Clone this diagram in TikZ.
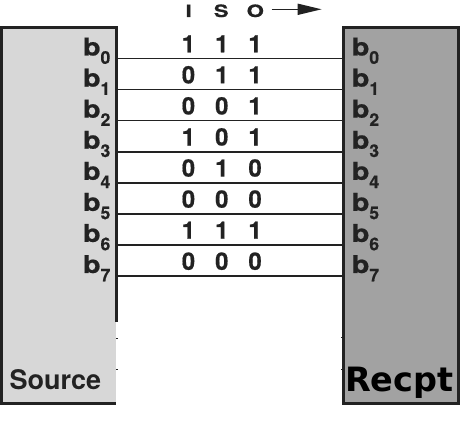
\documentclass[tikz,border=0pt]{standalone}
\usepackage{fontspec}
\setmainfont{TeX Gyre Heros}[BoldFeatures={FakeBold=0.6}]
\newfontfamily\srcfont{TeX Gyre Heros}
\newfontfamily\dvfont{DejaVu Sans}
\usetikzlibrary{arrows.meta}
\definecolor{ink}{HTML}{222222}
\definecolor{srcfill}{HTML}{D7D7D7}
\definecolor{rcpfill}{HTML}{A2A2A2}
\newcommand{\blab}[1]{\scalebox{1.18}[1]{\fontsize{24.5}{24.5}\selectfont b}\raisebox{-8.3pt}{\fontsize{17.5}{17.5}\selectfont #1}}
\newcommand{\hdrtxt}[1]{\scalebox{1.3}[1]{#1}}
\tikzset{
  boxfill/.style={inner sep=0pt, minimum width=#1, minimum height=375.7pt},
  border/.style={draw=ink, line width=3pt, line join=miter},
  wire/.style={draw=ink, line width=1.6pt},
  bit/.style={inner sep=0pt, anchor=base, text=ink, font=\bfseries\fontsize{24}{24}\selectfont},
  hdr/.style={inner sep=0pt, anchor=base, text=ink, font=\bfseries\fontsize{17}{17}\selectfont},
  lblL/.style={inner sep=0pt, anchor=base east, text=ink, font=\bfseries},
  lblR/.style={inner sep=0pt, anchor=base west, text=ink, font=\bfseries},
  tick/.style={draw=ink, line width=1pt}
}
\begin{document}
\begin{tikzpicture}[x=1pt,y=-1pt]
\useasboundingbox (0,0) rectangle (463,427);
% boxes
\node[boxfill=114.7pt, fill=srcfill] (src) at (58.85,215.15) {};
\node[boxfill=115.3pt, fill=rcpfill] (rcp) at (400.85,215.15) {};
\draw[border] (src.east |- 0,321.7) -- (src.north east) -- (src.north west) -- (src.south west) -- (src.south east);
\draw[border] (rcp.south west) rectangle (rcp.north east);
% small ticks
\draw[tick] (src.east |- 0,339) -- ++(1.5,0);
\draw[tick] (src.east |- 0,370) -- ++(1.5,0);
\draw[tick] (rcp.west |- 0,338) -- ++(-2,0);
\draw[tick] (rcp.west |- 0,370) -- ++(-2,0);
% wires, bits, labels
\foreach \i/\a/\b/\c in {0/1/1/1,1/0/1/1,2/0/0/1,3/1/0/1,4/0/1/0,5/0/0/0,6/1/1/1,7/0/0/0}{
  \pgfmathsetmacro{\yy}{58.5+31.07*\i}
  \coordinate (l\i) at (src.east |- 0,\yy);
  \coordinate (r\i) at (rcp.west |- 0,\yy);
  \draw[wire] (l\i) -- (r\i);
  \node[bit] (bi\i) at (188.5,\yy-6.2) {\a};
  \node[bit] (bs\i) at (221.8,\yy-6.2) {\b};
  \node[bit] (bo\i) at (255.1,\yy-6.2) {\c};
  \node[lblL] (sl\i) at (110.5,\yy-3) {\blab{\i}};
  \node[lblR] (rl\i) at (351.5,\yy-3) {\blab{\i}};
}
% header
\node[hdr] (hI) at (188.7,17) {\hdrtxt{I}};
\node[hdr] (hS) at (221.2,17) {\hdrtxt{S}};
\node[hdr] (hO) at (255.3,17) {\hdrtxt{O}};
\coordinate (a1) at (271.7,9.3);
\coordinate (a2) at (321.7,9.3);
\draw[draw=ink, line width=1.5pt, -{Triangle[length=24pt,width=11pt]}] (a1) -- (a2);
% titles
\node[inner sep=0pt, anchor=base west, text=ink, font=\srcfont\bfseries\fontsize{27}{27}\selectfont] (srct) at (9.5,389) {Source};
\node[inner sep=0pt, anchor=base west, text=black, font=\dvfont\bfseries\fontsize{33.5}{33.5}\selectfont] (rcpt) at (345,391.7) {Recpt};
\end{tikzpicture}
\end{document}
